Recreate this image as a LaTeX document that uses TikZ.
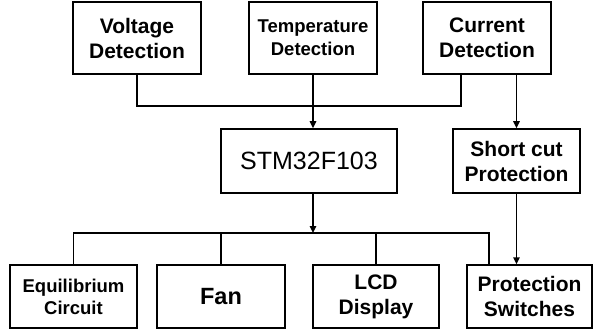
\documentclass[tikz,border=0pt]{standalone}
\usepackage{fontspec}
\setmainfont{Liberation Sans}
\usetikzlibrary{arrows.meta, positioning, calc}

\tikzset{
    blk/.style={draw, line width=1.5pt, inner sep=0pt, align=center,
        font=\fontsize{21}{25}\selectfont\bfseries},
    wire/.style={line width=1.5pt},
    arr/.style={line width=1.5pt, -{Triangle[length=7pt,width=6.5pt]}}
}

\begin{document}
\begin{tikzpicture}[x=1pt, y=-1pt]
    \useasboundingbox (0,0) rectangle (593,331);

    % 检测模块
    \node[blk, line width=2.2pt, minimum width=128, minimum height=72] (volt) at (137,38) {Voltage\\Detection};
    \node[blk, minimum width=128, minimum height=72, font=\fontsize{18.5}{23}\selectfont\bfseries] (temp) at (313,38) {Temperature\\Detection};
    \node[blk, minimum width=128, minimum height=72] (curr) at (487,38) {Current\\Detection};

    % 主控与短路保护
    \node[blk, minimum width=176, minimum height=64, font=\fontsize{25}{30}\selectfont] (mcu) at (309,161) {STM32F103};
    \node[blk, minimum width=127, minimum height=64] (short) at (516.5,161) {Short cut\\Protection};

    % 执行模块
    \node[blk, minimum width=127, minimum height=63, font=\fontsize{18.5}{22}\selectfont\bfseries] (equi) at (73.5,296.5) {Equilibrium\\Circuit};
    \node[blk, minimum width=128, minimum height=63, font=\fontsize{23.5}{28}\selectfont\bfseries] (fan) at (221,296.5) {Fan};
    \node[blk, minimum width=126, minimum height=63] (lcd) at (376,296.5) {LCD\\Display};
    \node[blk, minimum width=125, minimum height=63] (prot) at (529.5,296.5) {Protection\\Switches};

    \coordinate (jtop) at (313,106);
    \coordinate (busL) at (73.5,233);
    \coordinate (busM) at (313,233);
    \coordinate (busR) at (489,233);

    % 上方连线
    \draw[wire] (volt.south) |- (jtop) -| ([xshift=-26]curr.south);
    \draw[arr] (temp.south) -- (temp.south |- mcu.north);
    \draw[arr] (short.north |- curr.south) -- (short.north);

    % 下方总线
    \draw[arr] (busM |- mcu.south) -- (busM);
    \draw[wire] (equi.north) -- (busL) -- (busR) -- (busR |- prot.north);
    \draw[wire] (fan.north) -- (fan.north |- busL);
    \draw[wire] (lcd.north) -- (lcd.north |- busL);
    \draw[arr] (short.south) -- (short.south |- prot.north);
\end{tikzpicture}
\end{document}
